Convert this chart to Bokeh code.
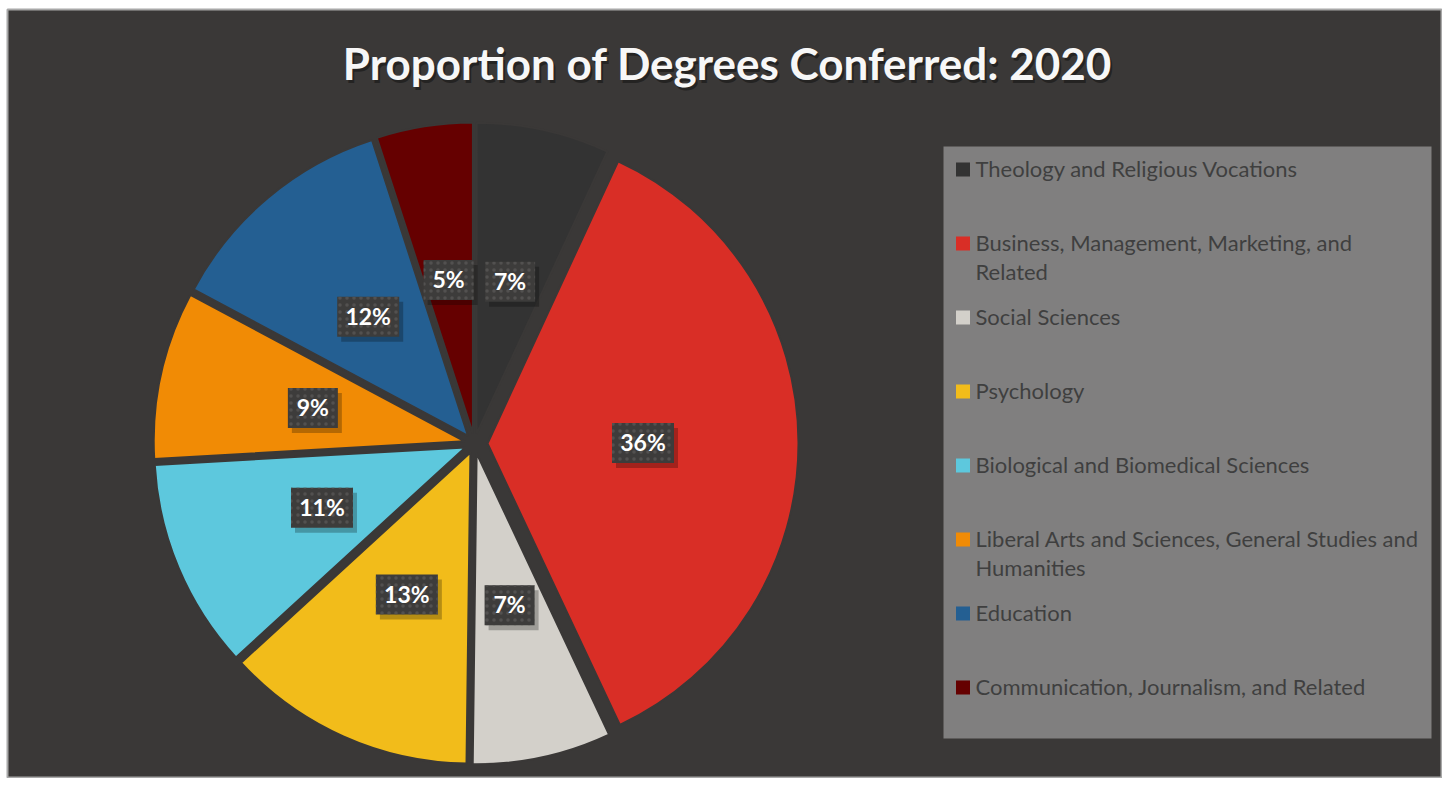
import math
import numpy as np
from bokeh.plotting import figure
from bokeh.models import Range1d
from bokeh.core.properties import value
from bokeh.embed import file_html
from bokeh.resources import INLINE

# ---------------- data ----------------
categories = [
    "Theology and Religious Vocations",
    "Business, Management, Marketing, and Related",
    "Social Sciences",
    "Psychology",
    "Biological and Biomedical Sciences",
    "Liberal Arts and Sciences, General Studies and Humanities",
    "Education",
    "Communication, Journalism, and Related",
]
legend_lines = [
    ["Theology and Religious Vocations"],
    ["Business, Management, Marketing, and", "Related"],
    ["Social Sciences"],
    ["Psychology"],
    ["Biological and Biomedical Sciences"],
    ["Liberal Arts and Sciences, General Studies and", "Humanities"],
    ["Education"],
    ["Communication, Journalism, and Related"],
]
shares = [6.9, 36.1, 7.2, 13.0, 10.9, 8.7, 12.2, 5.0]
colors = ["#333333", "#D92E26", "#D3D0CA", "#F2BC1A", "#5DC8DD", "#F18B05", "#245F92", "#650000"]
explode = [10, 13, 10, 10, 10, 10, 10, 10]
title_text = "Proportion of Degrees Conferred: 2020"

# ---------------- layout ----------------
TW, TH = 1442, 778            # total figure size
BL, BT = 7, 9                 # white page border left / top
FW, FH = TW - BL, TH - BT     # frame size (1 data unit = 1 px)
BG = "#3A3837"
FONT = "Lato"

def px(X):
    return X - BL

def py(Y):
    return FH - (Y - BT)

p = figure(width=TW, height=TH, output_backend="svg", toolbar_location=None,
           x_range=Range1d(0, FW), y_range=Range1d(0, FH),
           min_border_left=BL, min_border_top=BT, min_border_right=0, min_border_bottom=0)
p.axis.visible = False
p.grid.visible = False
p.background_fill_color = BG
p.border_fill_color = "#FFFFFF"
p.outline_line_color = "#A8A8A8"
p.outline_line_width = 2

# title with shadow
tx, ty = px(727), py(62)
p.text([tx + 2], [ty - 3], text=[title_text], text_font=value(FONT), text_font_style="bold",
       text_font_size="44px", text_color="#111111", text_alpha=0.55,
       text_align="center", text_baseline="middle")
p.text([tx], [ty], text=[title_text], text_font=value(FONT), text_font_style="bold",
       text_font_size="44px", text_color="#F7F7F7",
       text_align="center", text_baseline="middle")

# pie
cx, cy, R = px(474), py(443), 311
total = sum(shares)
fr = np.array(shares) / total
cum = np.concatenate([[0], np.cumsum(fr)])
starts = math.pi / 2 - cum[:-1] * 2 * math.pi
ends = math.pi / 2 - cum[1:] * 2 * math.pi
mids = (starts + ends) / 2
ex = np.array(explode, dtype=float)
xs = cx + ex * np.cos(mids)
ys = cy + ex * np.sin(mids)

p.wedge(x=list(xs), y=list(ys), radius=R, start_angle=list(starts), end_angle=list(ends),
        direction="clock", fill_color=colors, line_color=BG, line_width=2)

# data labels
lab_r = 0.5 * R
lx = xs + lab_r * np.cos(mids)
ly = ys + lab_r * np.sin(mids)
labels = [f"{round(s)}%" for s in shares]
bw = [50 if len(t) == 2 else 62 for t in labels]
p.rect(list(lx + 4), list(ly - 5), width=bw, height=40, fill_color="#000000",
       fill_alpha=0.25, line_color=None)
p.rect(list(lx), list(ly), width=bw, height=40, fill_color="#3D3C3B", line_color=None,
       hatch_pattern="dot", hatch_color="#525150", hatch_scale=7, hatch_weight=1)
p.text(list(lx), list(ly + 1), text=labels, text_font=value(FONT), text_font_style="bold",
       text_font_size="23px", text_color="#FFFFFF", text_align="center", text_baseline="middle")

# legend box
p.quad(left=[px(943)], right=[px(1431)], top=[py(146)], bottom=[py(738)],
       fill_color="#807F7F", line_color=None)
row0, step, lh = 168, 74, 29
mk_x, mk_y, t_x, t_y, t_s = [], [], [], [], []
for i, lines in enumerate(legend_lines):
    yy = row0 + i * step
    mk_x.append(px(962.5))
    mk_y.append(py(yy + 1))
    for j, ln in enumerate(lines):
        t_x.append(px(975))
        t_y.append(py(yy + j * lh))
        t_s.append(ln)
p.rect(mk_x, mk_y, width=14, height=14, fill_color=colors, line_color=None)
p.text(t_x, t_y, text=t_s, text_font=value(FONT), text_font_size="22px",
       text_color="#3F3F3F", text_align="left", text_baseline="middle")

open("out.html", "w").write(file_html(p, INLINE))
